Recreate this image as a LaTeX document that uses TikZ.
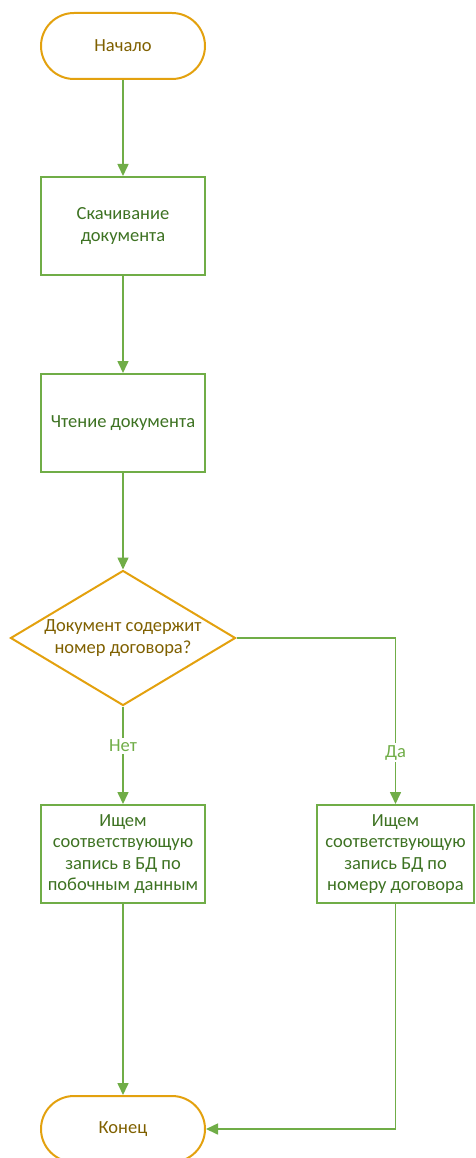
\documentclass[tikz,border=0pt]{standalone}
\usepackage{fontspec}
\setmainfont{Carlito}
\usetikzlibrary{shapes.geometric,arrows.meta}
\definecolor{gold}{HTML}{E3A10E}
\definecolor{goldtext}{HTML}{7F6000}
\definecolor{leaf}{HTML}{70AD47}
\definecolor{leaftext}{HTML}{3D7222}
\tikzset{
  body/.style={font=\fontsize{18.5}{21.5}\selectfont},
  terminal/.style={body, draw=gold, line width=2pt, rounded corners=33pt, minimum width=164pt,
    minimum height=66pt, inner sep=0pt, text=goldtext},
  process/.style={body, draw=leaf, line width=2pt, minimum width=164pt, minimum height=98pt,
    inner sep=0pt, text=leaftext, align=center},
  decision/.style={body, draw=gold, line width=2pt, diamond, aspect=1.667, minimum width=225pt,
    minimum height=135pt, inner sep=0pt, text=goldtext, align=center},
  flow/.style={draw=leaf, line width=1.6pt, -{Triangle[length=12pt,width=11pt]}},
  tag/.style={body, fill=white, text=leaf, inner sep=2pt}
}
\begin{document}
\begin{tikzpicture}[x=1pt,y=-1pt]
\useasboundingbox (0,0) rectangle (475,1158);
\node[terminal] (start) at (123,46) {Начало};
\node[process] (fetch) at (123,226) {Скачивание\\документа};
\node[process] (read) at (123,423) {Чтение документа};
\node[decision] (check) at (123,638) {Документ содержит\\номер договора?};
\node[process] (side) at (123,854) {Ищем\\соответствующую\\запись в БД по\\побочным данным};
\node[process, minimum width=157pt] (byno) at (395.5,854) {Ищем\\соответствующую\\запись БД по\\номеру договора};
\node[terminal] (finish) at (123,1129) {Конец};

\draw[flow] (start) -- (fetch);
\draw[flow] (fetch) -- (read);
\draw[flow] (read) -- (check);
\draw[flow] (check.south) -- node[tag, pos=0.4] {Нет} (side.north);
\draw[flow] (check.east) -| node[tag, pos=0.845] {Да} (byno.north);
\draw[flow] (side) -- (finish);
\draw[flow] (byno.south) |- (finish.east);
\end{tikzpicture}
\end{document}
